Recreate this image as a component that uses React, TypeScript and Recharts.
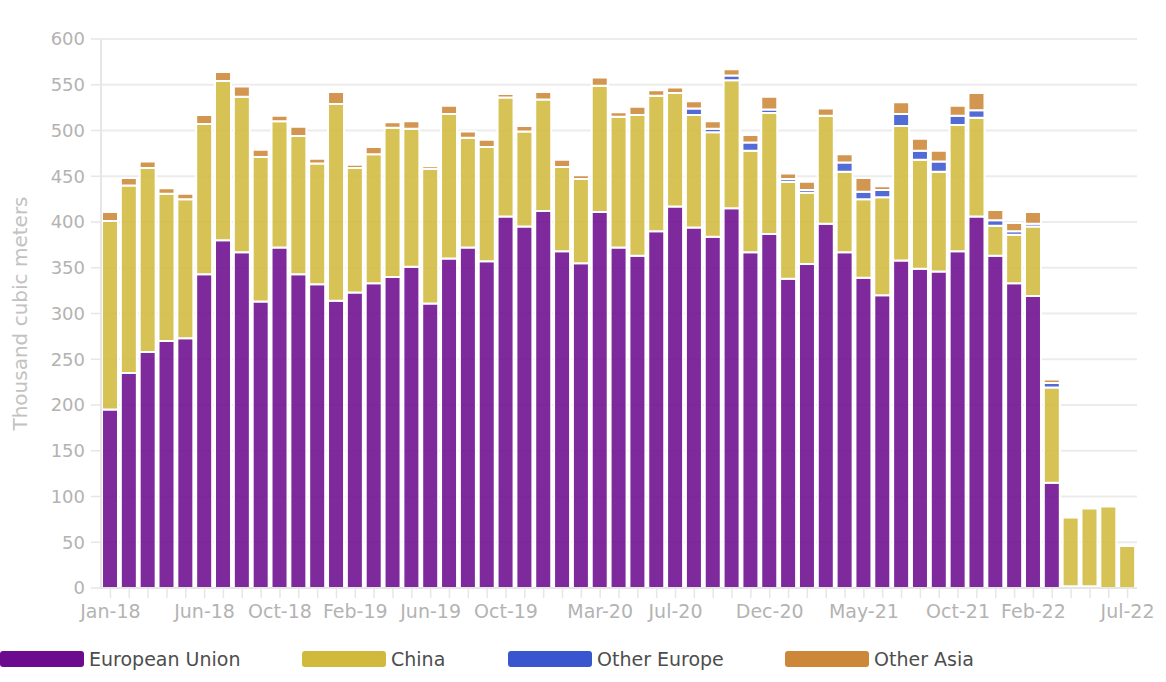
import React from 'react';
import { BarChart, Bar, XAxis, YAxis, CartesianGrid, Legend } from 'recharts';

const months = [
  'Jan-18','Feb-18','Mar-18','Apr-18','May-18','Jun-18','Jul-18','Aug-18','Sep-18','Oct-18','Nov-18','Dec-18',
  'Jan-19','Feb-19','Mar-19','Apr-19','May-19','Jun-19','Jul-19','Aug-19','Sep-19','Oct-19','Nov-19','Dec-19',
  'Jan-20','Feb-20','Mar-20','Apr-20','May-20','Jun-20','Jul-20','Aug-20','Sep-20','Oct-20','Nov-20','Dec-20',
  'Jan-21','Feb-21','Mar-21','Apr-21','May-21','Jun-21','Jul-21','Aug-21','Sep-21','Oct-21','Nov-21','Dec-21',
  'Jan-22','Feb-22','Mar-22','Apr-22','May-22','Jun-22','Jul-22',
];

const europeanUnion = [
  195, 235, 258, 270, 273, 343, 380, 367, 313, 372, 343, 332,
  314, 323, 333, 340, 351, 311, 360, 372, 357, 406, 395, 412,
  368, 355, 411, 372, 363, 390, 417, 394, 384, 415, 367, 387,
  338, 354, 398, 367, 339, 320, 358, 349, 346, 368, 406, 363,
  333, 319, 115, 2, 2, 0, 0,
];

const china = [
  206, 205, 201, 161, 152, 164, 174, 170, 158, 138, 151, 132,
  215, 136, 141, 163, 151, 147, 158, 120, 125, 130, 104, 122,
  92, 92, 138, 143, 154, 148, 124, 123, 114, 140, 111, 132,
  106, 78, 118, 88, 86, 107, 147, 119, 109, 138, 108, 33,
  53, 76, 104, 75, 85, 89, 46,
];

const otherEurope = [
  0, 0, 0, 0, 0, 0, 0, 0, 0, 0, 0, 0,
  0, 0, 0, 0, 0, 0, 0, 0, 0, 0, 0, 0,
  0, 0, 0, 0, 0, 0, 0, 7, 4, 5, 9, 4,
  3, 3, 0, 10, 8, 8, 13, 10, 11, 10, 8, 6,
  4, 3, 5, 0, 0, 0, 0,
];

const otherAsia = [
  10, 8, 7, 6, 6, 10, 10, 11, 8, 6, 10, 5,
  13, 3.5, 8, 6, 8, 3, 9, 7, 8, 4, 6, 8,
  8, 4, 9, 5, 9, 6, 6, 8, 8, 7, 8, 14,
  6, 9, 8, 9, 15, 4, 13, 13, 12, 11, 19, 11,
  9, 13, 4, 0, 0, 0, 0,
];

const labeledTicks = ['Jan-18','Jun-18','Oct-18','Feb-19','Jun-19','Oct-19','Mar-20','Jul-20','Dec-20','May-21','Oct-21','Feb-22','Jul-22'];
const yTicks = [0, 50, 100, 150, 200, 250, 300, 350, 400, 450, 500, 550, 600];

const seriesNames = ['European Union', 'China', 'Other Europe', 'Other Asia'];
const seriesKeys = ['eu', 'china', 'otherEurope', 'otherAsia'];
const seriesColors = ['#6c0b8e', '#d1b93e', '#3a56cf', '#cc8739'];

const data = months.map((m, i) => ({
  month: m,
  eu: europeanUnion[i],
  china: china[i],
  otherEurope: otherEurope[i],
  otherAsia: otherAsia[i],
}));

const FONT = '"DejaVu Sans", sans-serif';
const legendLefts = [0, 302, 508, 785];

const renderLegend = () => (
  <div style={{ position: 'relative', width: 1166, height: 30 }}>
    {seriesNames.map((name, i) => (
      <div
        key={name}
        style={{
          position: 'absolute',
          left: legendLefts[i],
          top: 0,
          height: 30,
          display: 'flex',
          alignItems: 'center',
          whiteSpace: 'nowrap',
        }}
      >
        <div style={{ width: 84, height: 16, borderRadius: 3, background: seriesColors[i] }} />
        <span style={{ marginLeft: 5, fontFamily: FONT, fontSize: 19, color: '#4d4d4d', lineHeight: '30px' }}>
          {name}
        </span>
      </div>
    ))}
  </div>
);

export default function App() {
  return (
    <div style={{ position: 'absolute', left: 0, top: 0, width: 1166, height: 682, background: '#fff' }}>
      <BarChart
        width={1166}
        height={682}
        data={data}
        margin={{ top: 39, right: 29, bottom: 8, left: 0 }}
        barSize={16}
      >
        <CartesianGrid vertical={false} stroke="#ececec" strokeWidth={2} />
        <XAxis
          dataKey="month"
          interval={0}
          height={56}
          tickSize={10}
          tickMargin={7}
          tickLine={{ stroke: '#e6e6e6', strokeWidth: 1.5 }}
          axisLine={{ stroke: '#e6e6e6', strokeWidth: 2 }}
          tick={{ fill: '#b3b3b3', fontSize: 19, fontFamily: FONT }}
          tickFormatter={(v: string) => (labeledTicks.includes(v) ? v : '')}
        />
        <YAxis
          width={101}
          domain={[0, 600]}
          ticks={yTicks}
          tickSize={10}
          tickMargin={6}
          tickLine={{ stroke: '#e6e6e6', strokeWidth: 1.5 }}
          axisLine={{ stroke: '#e6e6e6', strokeWidth: 2 }}
          tick={{ fill: '#b3b3b3', fontSize: 18, fontFamily: FONT }}
          label={{
            value: 'Thousand cubic meters',
            angle: -90,
            position: 'insideLeft',
            offset: 20,
            style: { textAnchor: 'middle', fill: '#c2c2c2', fontSize: 20, fontFamily: FONT },
          }}
        />
        <Legend verticalAlign="bottom" align="left" content={renderLegend} wrapperStyle={{ left: 0, bottom: 8, width: 1166, height: 30 }} />
        {seriesKeys.map((k, i) => (
          <Bar
            key={k}
            dataKey={k}
            name={seriesNames[i]}
            stackId="a"
            fill={seriesColors[i]}
            fillOpacity={0.88}
            stroke="#ffffff"
            strokeWidth={2}
            isAnimationActive={false}
          />
        ))}
      </BarChart>
    </div>
  );
}
